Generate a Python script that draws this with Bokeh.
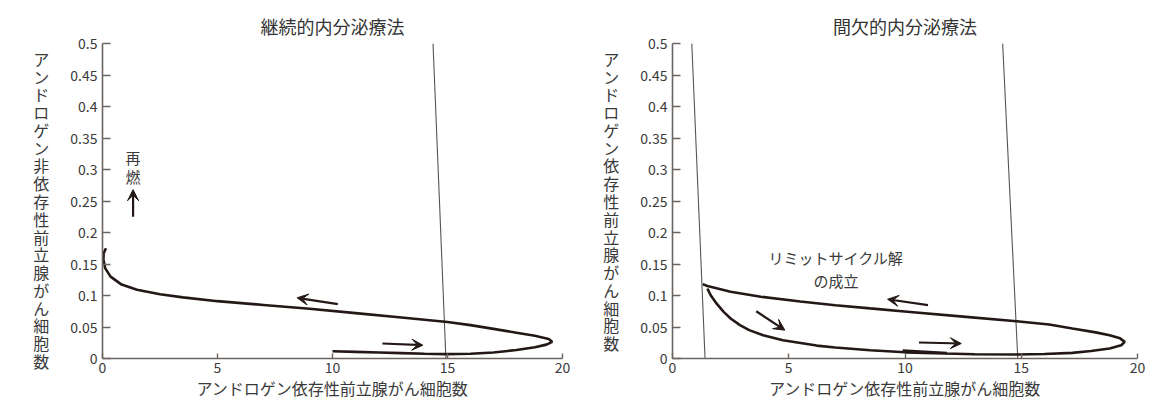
from bokeh.plotting import figure
from bokeh.layouts import row
from bokeh.models import Range1d, FixedTicker, Label, Arrow, VeeHead
from bokeh.embed import file_html
from bokeh.resources import INLINE

# ---------------- data ----------------
x_ticks = [0, 5, 10, 15, 20]
x_tick_labels = ["0", "5", "10", "15", "20"]
y_ticks = [0, 0.05, 0.1, 0.15, 0.2, 0.25, 0.3, 0.35, 0.4, 0.45, 0.5]
y_tick_labels = ["0", "0.05", "0.1", "0.15", "0.2", "0.25", "0.3", "0.35", "0.4", "0.45", "0.5"]

left_title = "継続的内分泌療法"
right_title = "間欠的内分泌療法"
x_label = "アンドロゲン依存性前立腺がん細胞数"
left_y_label = "アンドロゲン非依存性前立腺がん細胞数"
right_y_label = "アンドロゲン依存性前立腺がん細胞数"

# continuous therapy trajectory
cont_x = [10.0, 11.0, 12.0, 13.0, 14.0, 15.0, 16.0, 17.0, 18.0, 18.8, 19.3, 19.55, 19.4,
          18.8, 18.0, 17.0, 16.0, 15.0, 13.0, 11.0, 9.0, 7.0, 5.0, 3.5, 2.5, 1.5, 0.8,
          0.35, 0.12, 0.04, 0.05, 0.15]
cont_y = [0.0115, 0.0105, 0.0095, 0.0085, 0.0075, 0.007, 0.0075, 0.0095, 0.0135, 0.018,
          0.022, 0.0265, 0.031, 0.036, 0.041, 0.047, 0.053, 0.058, 0.065, 0.072, 0.079,
          0.085, 0.091, 0.097, 0.102, 0.109, 0.118, 0.13, 0.143, 0.157, 0.167, 0.175]

# nullcline lines (bottom, top)
left_null_x = [14.93, 14.37]
null_y = [0.0, 0.5]
right_null1_x = [1.4, 0.83]
right_null2_x = [14.85, 14.2]

# intermittent therapy limit cycle
cyc_x = [1.3, 1.5, 2.5, 3.8, 5.5, 7.0, 8.5, 10.1, 12.5, 14.8, 16.2, 17.2, 18.2, 18.8, 19.25,
         19.45, 19.3, 18.8, 18.0, 17.2, 16.0, 14.8, 13.0, 11.7, 10.0, 8.5, 7.0, 6.2, 4.75,
         3.9, 3.3, 2.9, 2.5, 2.2, 1.9, 1.65, 1.5]
cyc_y = [0.118, 0.115, 0.106, 0.098, 0.0905, 0.0846, 0.0795, 0.0742, 0.0665, 0.0592,
         0.054, 0.0476, 0.0415, 0.037, 0.032, 0.0264, 0.021, 0.0159, 0.0118, 0.0089,
         0.0072, 0.0063, 0.0068, 0.0079, 0.0098, 0.0132, 0.0175, 0.0205, 0.029, 0.037,
         0.045, 0.053, 0.0635, 0.074, 0.087, 0.1, 0.111]
start_x = [9.9, 11.8]
start_y = [0.0128, 0.0088]

# arrows: (x_start, y_start, x_end, y_end)
left_arrows = [(10.23, 0.0863, 8.46, 0.0963), (12.17, 0.0238, 13.93, 0.0211), (1.33, 0.225, 1.33, 0.268)]
right_arrows = [(10.99, 0.0846, 9.25, 0.0941), (3.6, 0.075, 4.83, 0.045), (10.6, 0.0254, 12.42, 0.0238)]

# ---------------- styling ----------------
JP = "Noto Sans CJK JP"
INK = "#231815"
AXIS = "#6b6461"
TXT = "#3a3a3a"


def vertical(s, lead=False):
    return ("\n" if lead else "") + "\n".join(list(s))


def make_fig(width, border_left, border_right, title, title_offset, ylab, lead):
    p = figure(width=width, height=405, output_backend="svg", toolbar_location=None,
               x_range=Range1d(0, 20), y_range=Range1d(0, 0.5),
               min_border_left=border_left, min_border_right=border_right,
               min_border_top=43, min_border_bottom=47, title=title)
    p.title.align = "center"
    p.title.offset = title_offset
    p.title.text_font = JP
    p.title.text_font_size = "18px"
    p.title.text_font_style = "normal"
    p.title.text_color = "#333333"
    p.outline_line_color = None
    p.grid.visible = False
    p.background_fill_color = "white"
    p.border_fill_color = "white"
    p.xaxis.ticker = FixedTicker(ticks=x_ticks)
    p.yaxis.ticker = FixedTicker(ticks=y_ticks)
    p.xaxis.major_label_overrides = {t: l for t, l in zip(x_ticks, x_tick_labels)}
    p.yaxis.major_label_overrides = {t: l for t, l in zip(y_ticks, y_tick_labels)}
    for ax in (p.xaxis, p.yaxis):
        ax.axis_line_color = AXIS
        ax.axis_line_width = 1.6
        ax.major_tick_line_color = AXIS
        ax.major_tick_line_width = 1.4
        ax.minor_tick_line_color = None
        ax.major_tick_out = 0
        ax.major_label_text_font = JP
        ax.major_label_text_font_size = "14px"
        ax.major_label_text_color = TXT
        ax.axis_label_text_font = JP
        ax.axis_label_text_font_size = "16px"
        ax.axis_label_text_font_style = "normal"
        ax.axis_label_text_color = TXT
    p.xaxis.major_tick_in = 5
    p.yaxis.major_tick_in = 8
    p.xaxis.major_label_standoff = 3
    p.yaxis.major_label_standoff = 5
    p.xaxis.axis_label = x_label
    p.xaxis.axis_label_standoff = 0
    p.yaxis.axis_label = vertical(ylab, lead)
    p.yaxis.axis_label_orientation = "horizontal"
    p.yaxis.axis_label_text_align = "right"
    p.yaxis.axis_label_text_line_height = 0.74
    p.yaxis.axis_label_standoff = 18
    return p


def add_arrows(p, arrows):
    for xs, ys, xe, ye in arrows:
        p.add_layout(Arrow(end=VeeHead(size=11, fill_color=INK, line_color=INK, line_width=1),
                           x_start=xs, y_start=ys, x_end=xe, y_end=ye,
                           line_color=INK, line_width=2.2))


def add_text(p, x, y, text, size, baseline="middle", lh=1.2):
    p.add_layout(Label(x=x, y=y, text=text, text_font=JP, text_font_size=size,
                       text_color=TXT, text_align="center", text_baseline=baseline,
                       text_line_height=lh))


# ---- left panel ----
p1 = make_fig(577, 102, 15, left_title, -2, left_y_label, True)
p1.line(left_null_x, null_y, line_color="#555555", line_width=1.1)
p1.line(cont_x, cont_y, line_color=INK, line_width=2.6)
add_arrows(p1, left_arrows)
add_text(p1, 1.33, 0.272, vertical("再燃"), "15px", baseline="bottom", lh=0.92)

# ---- right panel ----
p2 = make_fig(575, 95, 15, right_title, 16, right_y_label, False)
p2.line(right_null1_x, null_y, line_color="#555555", line_width=1.1)
p2.line(right_null2_x, null_y, line_color="#555555", line_width=1.1)
p2.line(cyc_x, cyc_y, line_color=INK, line_width=2.6)
p2.line(start_x, start_y, line_color=INK, line_width=2.6)
add_arrows(p2, right_arrows)
add_text(p2, 7.03, 0.161, "リミットサイクル解", "15px")
add_text(p2, 7.03, 0.124, "の成立", "15px")

layout = row(p1, p2, spacing=0)
open("out.html", "w").write(file_html(layout, INLINE))
